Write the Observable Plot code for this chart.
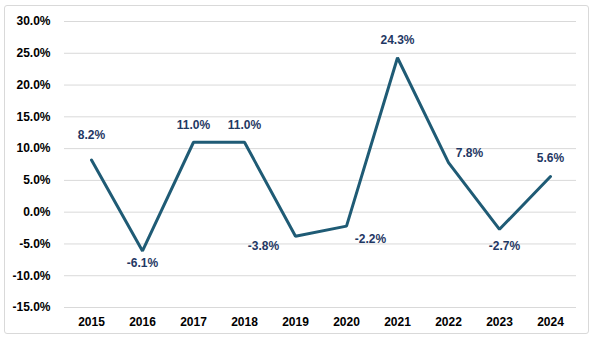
<!DOCTYPE html>
<html>
<head>
<meta charset="utf-8">
<script src="https://cdn.jsdelivr.net/npm/d3@7"></script>
<script src="https://cdn.jsdelivr.net/npm/@observablehq/plot@0.6"></script>
<style>
  html, body { margin: 0; padding: 0; background: #fff; }
  #wrap { position: relative; width: 593px; height: 338px; }
  #border { position: absolute; left: 4px; top: 5px; width: 583px; height: 327px; border: 1px solid #d9d9d9; border-radius: 3px; }
  #chart { position: absolute; left: 0; top: 0; }
</style>
</head>
<body>
<div id="wrap"><div id="border"></div><div id="chart"></div></div>
<script>
const years = ["2015","2016","2017","2018","2019","2020","2021","2022","2023","2024"];
const values = [8.2, -6.1, 11.0, 11.0, -3.8, -2.2, 24.3, 7.8, -2.7, 5.6];
const yTicks = [-15, -10, -5, 0, 5, 10, 15, 20, 25, 30];

const data = years.map((y, i) => ({year: y, value: values[i]}));

// label placement (annotation layout)
const labelOffset = {
  "2015": [0, -25], "2016": [0, 12], "2017": [0, -17], "2018": [0, -17],
  "2019": [-32, 10], "2020": [24, 13], "2021": [0, -18], "2022": [21, -9],
  "2023": [5, 17], "2024": [0, -18]
};

const fontFam = "Arial, 'Liberation Sans', sans-serif";
const marks = [
  Plot.ruleY(yTicks, {stroke: "#d9d9d9", strokeWidth: 1, strokeOpacity: 1}),
  Plot.line(data, {x: "year", y: "value", stroke: "#1f5b75", strokeWidth: 3, strokeLinejoin: "miter"}),
  ...data.map(d => Plot.text([d], {
    x: "year", y: "value",
    text: d => d.value.toFixed(1) + "%",
    dx: labelOffset[d.year][0], dy: labelOffset[d.year][1],
    fill: "#1f3864", fontWeight: "bold", fontSize: 12, fontFamily: fontFam
  })),
  Plot.axisY(yTicks, {tickSize: 0, tickPadding: 14, tickFormat: d => d.toFixed(1) + "%", fontWeight: "bold", fontSize: 12, fill: "#000", label: null}),
  Plot.axisX({tickSize: 0, tickPadding: 10, fontWeight: "bold", fontSize: 12, fill: "#000", label: null})
];

const chart = Plot.plot({
  width: 593,
  height: 338,
  marginLeft: 64,
  marginRight: 17,
  marginTop: 21,
  marginBottom: 31,
  style: {fontFamily: fontFam, background: "transparent", overflow: "visible"},
  x: {type: "point", domain: years, padding: 0.5},
  y: {domain: [-15, 30]},
  marks
});
document.getElementById("chart").appendChild(chart);
</script>
</body>
</html>
